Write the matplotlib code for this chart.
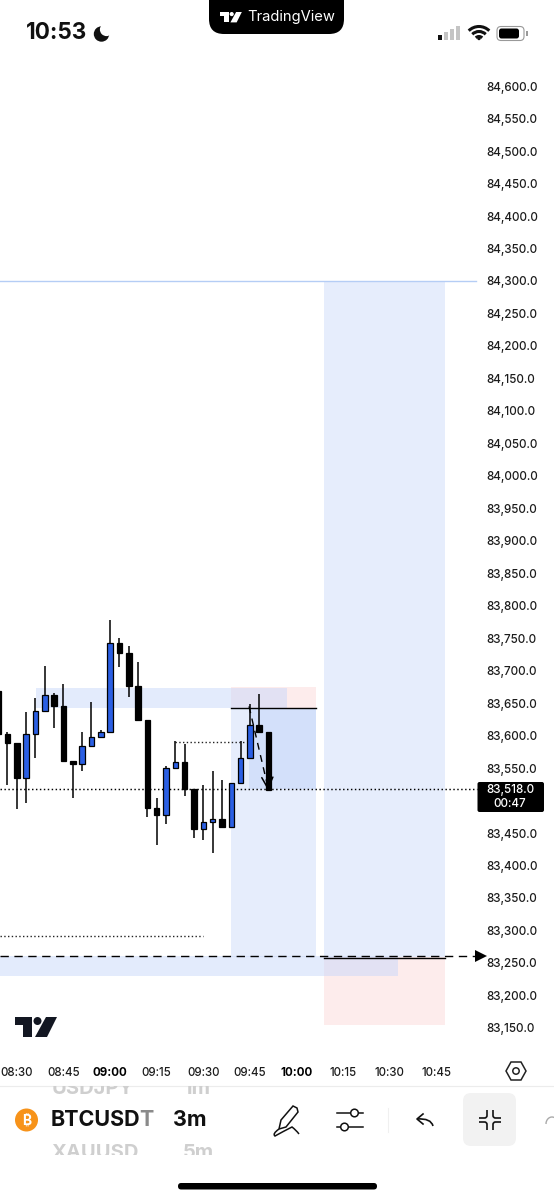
import matplotlib
matplotlib.use('Agg')
import matplotlib.pyplot as plt
from matplotlib.patches import Circle, FancyBboxPatch, Polygon, Rectangle, Arc, PathPatch
from matplotlib.path import Path

plt.rcParams['font.family'] = ['Inter', 'Noto Sans', 'Roboto', 'DejaVu Sans']

# candles, one every 3 minutes
minutes = [504 + 3 * i for i in range(30)]
opens = [83669, 83603, 83588, 83535, 83603, 83638, 83662, 83645, 83561, 83557, 83584, 83598, 83605,
         83742, 83727, 83676, 83624, 83488, 83478, 83550, 83560, 83518, 83456, 83467, 83471, 83459,
         83527, 83566, 83616, 83605]
highs = [83669, 83605, 83588, 83636, 83658, 83707, 83666, 83680, 83561, 83606, 83652, 83608, 83778,
         83751, 83738, 83713, 83624, 83504, 83553, 83591, 83587, 83518, 83524, 83546, 83532, 83527,
         83591, 83648, 83664, 83605]
lows = [83603, 83524, 83487, 83496, 83566, 83638, 83612, 83561, 83504, 83546, 83584, 83598, 83605,
        83705, 83659, 83624, 83474, 83431, 83464, 83548, 83507, 83442, 83439, 83419, 83459, 83459,
        83527, 83566, 83605, 83516]
closes = [83603, 83588, 83535, 83603, 83638, 83662, 83645, 83561, 83557, 83584, 83598, 83605, 83742,
          83727, 83676, 83624, 83488, 83478, 83550, 83560, 83518, 83456, 83467, 83471, 83459, 83527,
          83566, 83616, 83605, 83516]

last_price = 83518
price_ticks = [84600 - 50 * i for i in range(30) if 84600 - 50 * i != 83500]
time_ticks = [510, 525, 540, 555, 570, 585, 600, 615, 630, 645]
time_labels = ['08:30', '08:45', '09:00', '09:15', '09:30', '09:45', '10:00', '10:15', '10:30', '10:45']

BLUE = '#2b5fe3'

fig = plt.figure(figsize=(5.54, 12), dpi=100)
ax = fig.add_axes([0, 0, 1, 1])
ax.set_xlim(504.6, 682.8)
ax.set_ylim(82885, 84732.6)
for s in ax.spines.values():
    s.set_visible(False)

# drawing tool boxes
def box(t0, t1, p0, p1, color, z=1, alpha=1.0):
    ax.add_patch(Rectangle((t0, p0), t1 - t0, p1 - p0, fc=color, ec='none', zorder=z, alpha=alpha))

box(608.8, 647.7, 83259, 84300, '#e6edfc')
box(608.8, 647.7, 83155, 83259, '#fdecec')
box(578.9, 606.2, 83259, 83643, '#e6edfc')
box(584.7, 606.2, 83518, 83643, '#d3e0fa')
box(578.9, 606.2, 83643, 83675, '#fdecec')
box(516.2, 596.9, 83643, 83673, '#c9d8fa', z=2, alpha=0.5)
box(504.6, 632.6, 83230, 83260, '#c9d8fa', z=2, alpha=0.5)

ax.plot([504.6, 657.7], [84300, 84300], color='#b5cdf5', lw=1, zorder=3)
ax.plot([578.9, 606.2], [83643, 83643], color='black', lw=1, zorder=5)
ax.plot([608.8, 647.7], [83258, 83258], color='black', lw=1, zorder=5)

# dotted and dashed levels
ax.plot([504.6, 569.9], [83292, 83292], color='#222222', lw=1, ls=(0, (1, 1.7)), zorder=4)
ax.plot([560.9, 583.4], [83590, 83590], color='#222222', lw=1, ls=(0, (1, 1.7)), zorder=4)
ax.plot([504.6, 658], [last_price, last_price], color='black', lw=1.05, ls=(0, (1, 1.7)), zorder=4)
ax.plot([504.6, 658], [83260, 83260], color='black', lw=1, ls=(0, (6, 4)), zorder=6)
ax.plot([659.4], [83260], marker='>', color='black', ms=9, mew=0, zorder=6, clip_on=False)

# candles
for t, o, h, l, c in zip(minutes, opens, highs, lows, closes):
    ax.vlines(t, l, h, color='black', lw=1.1, zorder=7)
    ax.bar(t, abs(c - o), bottom=min(o, c), width=1.8, color=BLUE if c > o else 'black',
           edgecolor='black', linewidth=0.9, zorder=8)

# dashed arrow of the projected move
ax.plot([584.7, 590.8], [83645, 83520], color='black', lw=1, ls=(0, (5, 4)), zorder=9)
ax.annotate('', xy=(590.8, 83516), xytext=(590.6, 83535), zorder=9,
            arrowprops=dict(arrowstyle='->', color='black', lw=1.1, mutation_scale=20, shrinkA=0, shrinkB=0))

# price and time axes
ax.yaxis.tick_right()
ax.set_yticks(price_ticks)
ax.set_yticklabels([f'{p:,.1f}' for p in price_ticks], fontsize=8.4, fontweight='medium', color='#1c1c1c')
ax.tick_params(axis='y', length=0, pad=-48.5)
ax.set_xticks(time_ticks)
ax.set_xticklabels(time_labels, fontsize=8.3, fontweight='medium', color='#1c1c1c')
ax.tick_params(axis='x', length=0, pad=-96)
for lab in ax.get_xticklabels():
    if lab.get_text() in ('09:00', '10:00'):
        lab.set_fontweight('bold')
        lab.set_color('black')

# phone and app chrome, in pixels
ui = fig.add_axes([0, 0, 1, 1], facecolor='none')
ui.set_xlim(0, 554)
ui.set_ylim(1200, 0)
ui.axis('off')

ui.add_patch(FancyBboxPatch((477.5, 782), 66.5, 30, boxstyle='round,pad=0,rounding_size=2', fc='black', ec='none'))
ui.text(510, 790, f'{last_price:,.1f}', color='white', fontsize=8.4, fontweight='medium', ha='center', va='center')
ui.text(510, 804, '00:47', color='white', fontsize=8.4, fontweight='medium', ha='center', va='center')

# status bar
ui.text(26, 33, '10:53', fontsize=16.2, fontweight='bold', va='center', color='#111111')
ui.add_patch(Circle((101.5, 34), 7.7, fc='#111111', ec='none'))
ui.add_patch(Circle((106.5, 29.5), 6.6, fc='white', ec='none'))

ui.add_patch(FancyBboxPatch((209, -20), 135, 54, boxstyle='round,pad=0,rounding_size=15', fc='black', ec='none'))
ui.text(247, 17, 'TradingView', color='white', fontsize=10.6, va='center')


def tv_logo(x, y, s, color):
    # logo drawn on a 42 x 20 grid
    ui.add_patch(Polygon([(x, y), (x + 17 * s, y), (x + 17 * s, y + 20 * s), (x + 8 * s, y + 20 * s),
                          (x + 8 * s, y + 8 * s), (x, y + 8 * s)], fc=color, ec='none'))
    ui.add_patch(Circle((x + 22.5 * s, y + 4 * s), 4 * s, fc=color, ec='none'))
    ui.add_patch(Polygon([(x + 31 * s, y), (x + 42 * s, y), (x + 32 * s, y + 20 * s), (x + 20 * s, y + 20 * s)],
                         fc=color, ec='none'))


tv_logo(220, 12, 0.52, 'white')
tv_logo(15, 1017, 1.0, '#131722')

for i, (c, h) in enumerate(zip(['#111111', '#c4c4c4', '#c4c4c4', '#c4c4c4'], [5, 8, 11, 14])):
    ui.add_patch(Rectangle((438 + i * 6, 40 - h), 4, h, fc=c, ec='none'))
for r in [4.5, 9.5, 14.5]:
    ui.add_patch(Arc((479, 41), 2 * r, 2 * r, theta1=225, theta2=315, color='#111111', lw=2.2))
ui.add_patch(Circle((479, 38.5), 1.7, fc='#111111', ec='none'))
ui.add_patch(FancyBboxPatch((497, 26.5), 27, 14, boxstyle='round,pad=0,rounding_size=4', fc='white', ec='#999999', lw=0.8))
ui.add_patch(FancyBboxPatch((499, 28.5), 20, 10, boxstyle='round,pad=0,rounding_size=2.5', fc='black', ec='none'))
ui.add_patch(Rectangle((526, 31), 1.5, 5, fc='#999999', ec='none'))

# time axis icon and toolbar
ui.plot([0, 554], [1085.5, 1085.5], color='#ececec', lw=0.8)
ui.add_patch(Polygon([(506, 1071), (511, 1062), (521, 1062), (526, 1071), (521, 1080), (511, 1080)],
                     fc='white', ec='#222222', lw=1.1))
ui.add_patch(Circle((516, 1071), 3.2, fc='white', ec='#222222', lw=1.1))

# symbol and interval wheels, neighbours cut off above and below
clip_top = Rectangle((0, 1086), 554, 10, transform=ui.transData)
clip_bot = Rectangle((0, 1144), 554, 11, transform=ui.transData)
for x, s, cl, y in [(52, 'USDJPY', clip_top, 1089), (52, 'XAUUSD', clip_bot, 1153),
                    (183, '1m', clip_top, 1089), (183, '5m', clip_bot, 1153)]:
    t = ui.text(x, y, s, fontsize=14.5, fontweight='bold', color='#cfcfcf', va='center')
    t.set_clip_on(True)
    t.set_clip_path(cl)

ui.add_patch(Circle((26.5, 1120), 11.5, fc='#f7931a', ec='none'))
ui.text(26.5, 1120, '₿', color='white', fontsize=10, fontweight='bold', ha='center', va='center')
sym = ui.text(51, 1120, 'BTCUSD', fontsize=15.5, fontweight='bold', va='center', color='#111111')
ui.annotate('T', xy=(1, 0.5), xycoords=sym, xytext=(-0.8, 0), textcoords='offset points',
            fontsize=15.5, fontweight='bold', va='center', color='#8a8a8a')
ui.text(173, 1120, '3m', fontsize=15.5, fontweight='bold', va='center', color='#111111')

# pen icon
ui.add_patch(Polygon([(281, 1120), (293, 1106), (297, 1108), (298, 1112), (286, 1127), (279, 1129)],
                     fc='white', ec='#111111', lw=1.1))
ui.add_patch(PathPatch(Path([(279, 1129), (272, 1134), (275, 1136), (284, 1131), (292, 1127), (296, 1130), (299, 1134)],
                            [Path.MOVETO, Path.CURVE3, Path.CURVE3, Path.CURVE3, Path.CURVE3, Path.CURVE3, Path.CURVE3]),
                       fc='none', ec='#111111', lw=1.1))
# sliders icon
ui.plot([337, 350], [1113, 1113], color='#111111', lw=1.1)
ui.plot([359, 363], [1113, 1113], color='#111111', lw=1.1)
ui.plot([349, 363], [1127, 1127], color='#111111', lw=1.1)
ui.plot([337, 340], [1127, 1127], color='#111111', lw=1.1)
ui.add_patch(Circle((354.5, 1113), 3.8, fc='white', ec='#111111', lw=1.1))
ui.add_patch(Circle((344.5, 1127), 3.8, fc='white', ec='#111111', lw=1.1))
ui.plot([387.5, 387.5], [1108, 1132], color='#f0f0f0', lw=0.8)

# undo arrow
ui.add_patch(PathPatch(Path([(417, 1119), (431, 1118), (433, 1126)], [Path.MOVETO, Path.CURVE3, Path.CURVE3]),
                       fc='none', ec='#111111', lw=1.2))
ui.plot([423, 417, 423], [1114, 1119, 1124], color='#111111', lw=1.2)

ui.add_patch(FancyBboxPatch((463, 1093), 53, 53, boxstyle='round,pad=0,rounding_size=8', fc='#f2f2f2', ec='none'))
for cx, cy, dx, dy in [(487, 1118, -1, -1), (493, 1118, 1, -1), (487, 1122, -1, 1), (493, 1122, 1, 1)]:
    codes = [Path.MOVETO, Path.LINETO, Path.CURVE3, Path.CURVE3, Path.LINETO]
    pts = [(cx, cy + dy * 8), (cx, cy + dy * 2.5), (cx, cy), (cx + dx * 2.5, cy), (cx + dx * 8, cy)]
    ui.add_patch(PathPatch(Path(pts, codes), fc='none', ec='#111111', lw=1.2))
ui.add_patch(Arc((552, 1124), 12, 14, theta1=180, theta2=290, color='#aaaaaa', lw=1))

ui.add_patch(FancyBboxPatch((178, 1183), 199, 6.5, boxstyle='round,pad=0,rounding_size=3.2', fc='black', ec='none'))

fig.savefig('out.png', dpi=100)
